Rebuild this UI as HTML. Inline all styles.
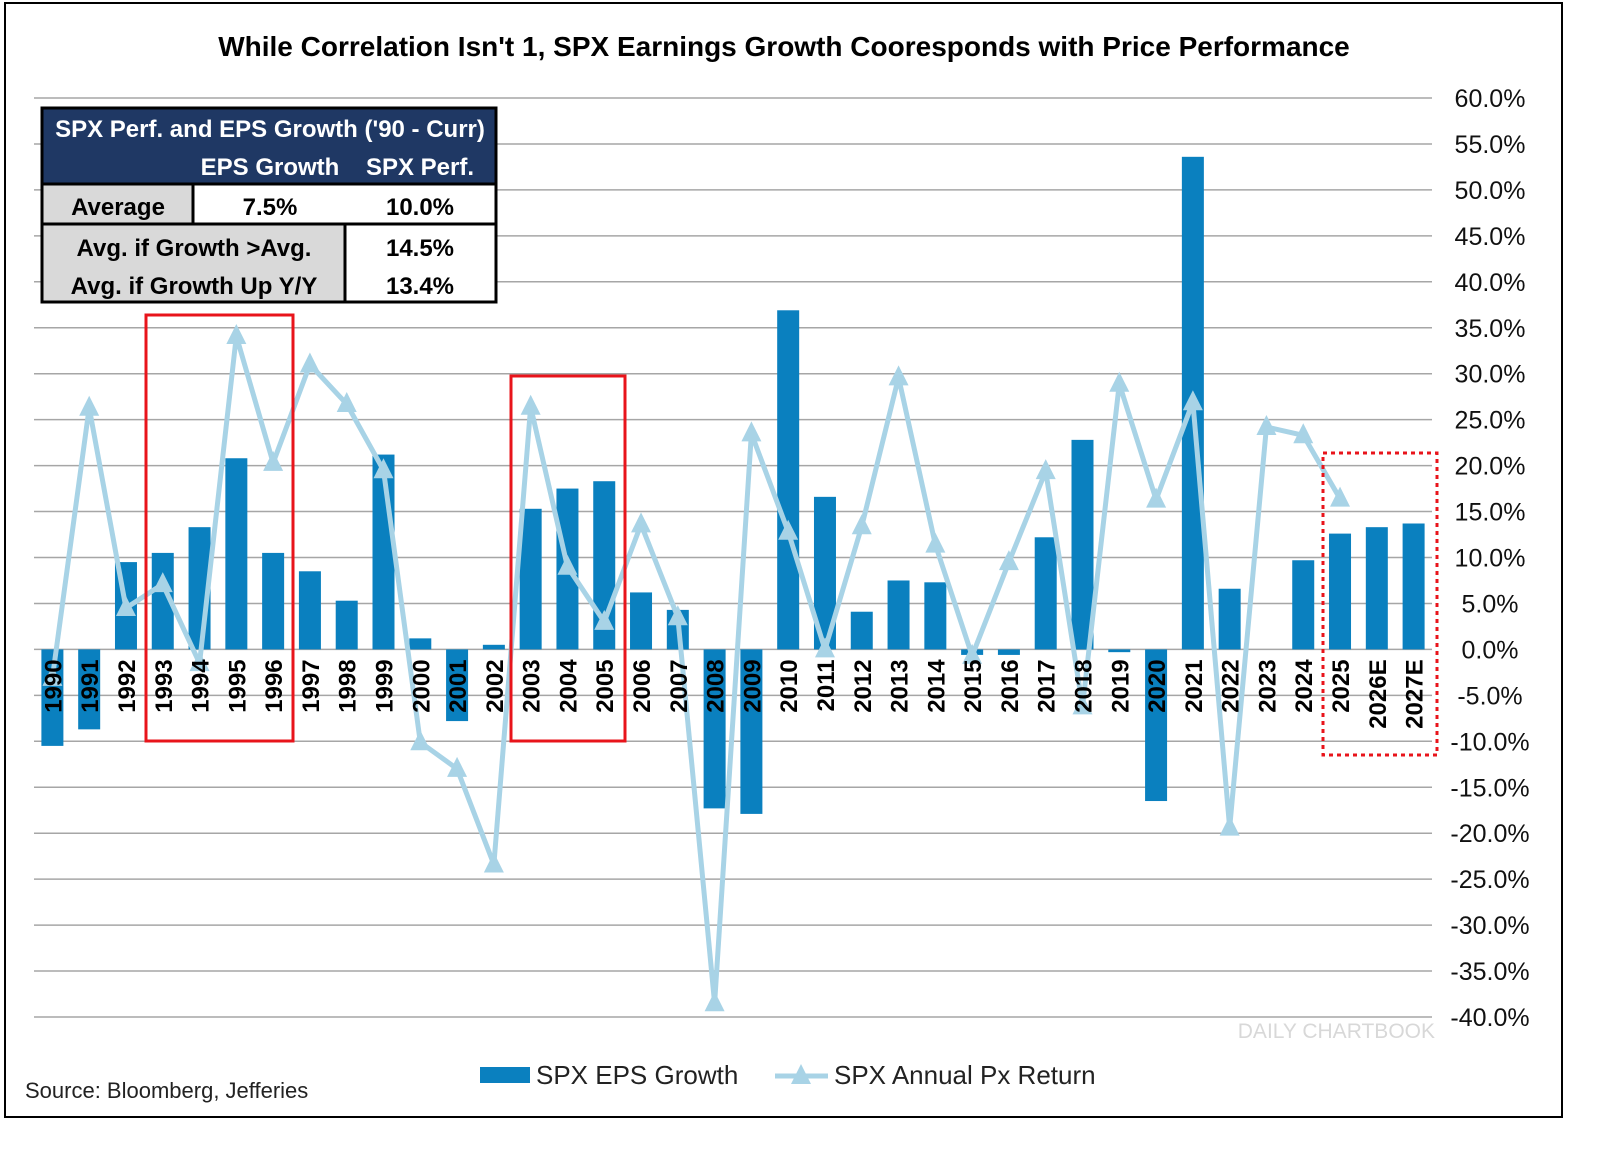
<!DOCTYPE html>
<html><head><meta charset="utf-8">
<style>
body{margin:0;background:#fff;font-family:"Liberation Sans",sans-serif;}
svg text{font-family:"Liberation Sans",sans-serif;}
</style></head>
<body>
<svg width="1600" height="1144" viewBox="0 0 1600 1144">
<rect x="5" y="3" width="1557" height="1114" fill="#fff" stroke="#000" stroke-width="2"/>
<text x="784" y="56" text-anchor="middle" font-size="28" font-weight="bold" fill="#000">While Correlation Isn't 1, SPX Earnings Growth Cooresponds with Price Performance</text>
<g id="grid"></g>
<g id="bars"></g>
<g id="line"></g>
<g id="xlabels"></g>
<g id="ylabels"></g>
<g>
<rect x="42" y="108" width="454" height="76" fill="#1f3864"/>
<text x="270" y="137" text-anchor="middle" font-size="24" font-weight="bold" fill="#fff">SPX Perf. and EPS Growth ('90 - Curr)</text>
<text x="270" y="175" text-anchor="middle" font-size="24" font-weight="bold" fill="#fff">EPS Growth</text>
<text x="420" y="175" text-anchor="middle" font-size="24" font-weight="bold" fill="#fff">SPX Perf.</text>
<rect x="42" y="184" width="151" height="40" fill="#d9d9d9" stroke="#000" stroke-width="3"/>
<rect x="193" y="184" width="303" height="40" fill="#fff" stroke="#000" stroke-width="3"/>
<text x="118" y="215" text-anchor="middle" font-size="24" font-weight="bold">Average</text>
<text x="270" y="215" text-anchor="middle" font-size="24" font-weight="bold">7.5%</text>
<text x="420" y="215" text-anchor="middle" font-size="24" font-weight="bold">10.0%</text>
<rect x="42" y="224" width="303" height="78" fill="#d9d9d9" stroke="#000" stroke-width="3"/>
<rect x="345" y="224" width="151" height="78" fill="#fff" stroke="#000" stroke-width="3"/>
<text x="194" y="256" text-anchor="middle" font-size="24" font-weight="bold">Avg. if Growth &gt;Avg.</text>
<text x="194" y="294" text-anchor="middle" font-size="24" font-weight="bold">Avg. if Growth Up Y/Y</text>
<text x="420" y="256" text-anchor="middle" font-size="24" font-weight="bold">14.5%</text>
<text x="420" y="294" text-anchor="middle" font-size="24" font-weight="bold">13.4%</text>
<rect x="42" y="108" width="454" height="194" fill="none" stroke="#000" stroke-width="3"/>
</g>
<rect x="146" y="315" width="147" height="426" fill="none" stroke="#e8141b" stroke-width="3"/>
<rect x="511" y="376" width="114" height="365" fill="none" stroke="#e8141b" stroke-width="3"/>
<rect x="1323" y="453" width="114" height="302" fill="none" stroke="#e8141b" stroke-width="3" stroke-dasharray="4,4"/>
<text x="1435" y="1038" text-anchor="end" font-size="21" fill="#d8d8d8">DAILY CHARTBOOK</text>
<g>
<rect x="480" y="1067" width="50" height="16" fill="#0a80bf"/>
<text x="536" y="1084" font-size="26" fill="#222">SPX EPS Growth</text>
<line x1="775" y1="1076" x2="828" y2="1076" stroke="#a8d3e6" stroke-width="5"/>
<polygon points="801,1064 811,1084 791,1084" fill="#a8d3e6"/>
<text x="834" y="1084" font-size="26" fill="#222">SPX Annual Px Return</text>
</g>
<text x="25" y="1098" font-size="22" fill="#222">Source: Bloomberg, Jefferies</text>
</svg>
<script>
const years=["1990","1991","1992","1993","1994","1995","1996","1997","1998","1999","2000","2001","2002","2003","2004","2005","2006","2007","2008","2009","2010","2011","2012","2013","2014","2015","2016","2017","2018","2019","2020","2021","2022","2023","2024","2025","2026E","2027E"];
const epsGrowth=[-10.5,-8.7,9.5,10.5,13.3,20.8,10.5,8.5,5.3,21.2,1.2,-7.8,0.5,15.3,17.5,18.3,6.2,4.3,-17.3,-17.9,36.9,16.6,4.1,7.5,7.3,-0.6,-0.6,12.2,22.8,-0.3,-16.5,53.6,6.6,0,9.7,12.6,13.3,13.7];
const pxReturn=[-3.1,26.3,4.5,7.1,-1.5,34.1,20.3,31.0,26.7,19.5,-10.1,-13.0,-23.4,26.4,9.0,3.0,13.6,3.5,-38.5,23.5,12.8,0.0,13.4,29.6,11.4,-0.7,9.5,19.4,-6.2,28.9,16.3,26.9,-19.4,24.2,23.3,16.4];
const yTicks=[60,55,50,45,40,35,30,25,20,15,10,5,0,-5,-10,-15,-20,-25,-30,-35,-40];
const NS="http://www.w3.org/2000/svg";
const X0=34,X1=1432,Y60=98,YM40=1017;
const band=(X1-X0)/years.length;
function xC(i){return X0+band*(i+0.5);}
function yS(v){return Y60+(60-v)*(YM40-Y60)/100;}
function mk(t,a,p){const e=document.createElementNS(NS,t);for(const k in a)e.setAttribute(k,a[k]);p.appendChild(e);return e;}
const g=document.getElementById('grid'),yl=document.getElementById('ylabels');
yTicks.forEach(v=>{
 const l=mk('line',{x1:X0,x2:X1,y1:yS(v),y2:yS(v),stroke:'#a6a6a6','stroke-width':1.5},g);
 
 
 const t=mk('text',{x:1490,y:yS(v)+9,'text-anchor':'middle','font-size':25,fill:'#111'},yl);
 t.textContent=v.toFixed(1)+'%';
 
 
});
const bg=document.getElementById('bars');
epsGrowth.forEach((v,i)=>{
 const y0=yS(0),y1=yS(v);
 const r=mk('rect',{x:xC(i)-11,width:22,y:Math.min(y0,y1),height:Math.abs(y1-y0),fill:'#0a80bf'},bg);
 
 
});
const lg=document.getElementById('line');
const pts=pxReturn.map((v,i)=>xC(i)+','+yS(v)).join(' ');
const pl=mk('polyline',{points:pts,fill:'none',stroke:'#a8d3e6','stroke-width':5,'stroke-linejoin':'round'},lg);


pxReturn.forEach((v,i)=>{
 const x=xC(i),y=yS(v);
 const p=mk('polygon',{points:`${x},${y-12} ${x+10},${y+8} ${x-10},${y+8}`,fill:'#a8d3e6'},lg);
 
 
});
const xl=document.getElementById('xlabels');
years.forEach((yr,i)=>{
 const x=xC(i)+9,y=yS(0)+10;
 const t=mk('text',{x:x,y:y,'text-anchor':'end','font-size':24,'font-weight':'bold',fill:'#000',transform:`rotate(-90 ${x} ${y})`},xl);
 t.textContent=yr;
 
 
});
</script>
</body></html>
